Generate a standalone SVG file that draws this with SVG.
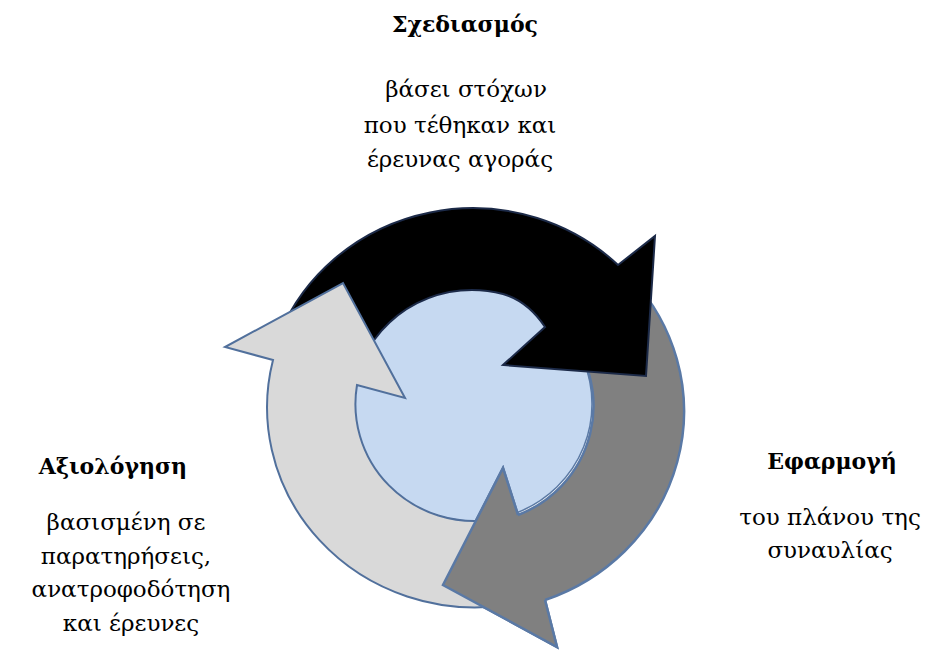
<svg xmlns="http://www.w3.org/2000/svg" width="926" height="661" viewBox="0 0 926 661">
<style>
  text { font-family: "DejaVu Serif", serif; font-size: 23px; fill: #000; text-anchor: middle; }
  .title { font-weight: bold; font-size: 22px; }
  .hub { fill: #c6d9f1; stroke: #5b7aa5; stroke-width: 1.5; }
  .arrow-black { fill: #000; stroke: #1c2a48; stroke-width: 2; stroke-linejoin: miter; }
  .arrow-gray { fill: #808080; stroke: #5a79a5; stroke-width: 2.5; stroke-linejoin: miter; }
  .arrow-light { fill: #d9d9d9; stroke: #51709c; stroke-width: 2; stroke-linejoin: miter; }
</style>
<rect width="926" height="661" fill="#ffffff"/>
<g id="hub">
  <ellipse class="hub" cx="473" cy="404" rx="119" ry="117"/>
</g>
<g id="connectors">
  <path id="arrow-implementation" class="arrow-gray" d="M 632 279 A 208 200 0 0 1 545 600 L 557 647 L 443 585 L 503 468 L 518 515 A 119 117 0 0 0 564 329 Z"/>
  <path id="arrow-planning" class="arrow-black" d="M 280 333 A 208 200 0 0 1 618 265 L 655 236 L 646 376 L 503 365 L 545 327 C 535 312 520 299 503 294 A 119 117 0 0 0 360 367 Z"/>
  <path id="arrow-evaluation" class="arrow-light" d="M 500 606 A 208 200 0 0 1 273 360 L 225 347 L 343 283 L 405 398 L 357 385 A 119 117 0 0 0 490 520 Z"/>
  <path d="M 503 468 L 518 515 L 545 600 L 557 647 L 443 585 Z" fill="#808080" stroke="none"/>
  <path d="M 518 515 L 503 468 L 443 585 L 557 647 L 545 600" fill="none" stroke="#5a79a5" stroke-width="2.5" stroke-linejoin="miter"/>
</g>
<g id="node-planning">
  <text class="title" x="465" y="32">Σχεδιασμός</text>
  <text x="466" y="97">βάσει στόχων</text>
  <text x="460" y="133">που τέθηκαν και</text>
  <text x="460" y="167">έρευνας αγοράς</text>
</g>
<g id="node-implementation">
  <text class="title" x="832" y="469">Εφαρμογή</text>
  <text x="830" y="525">του πλάνου της</text>
  <text x="830" y="558">συναυλίας</text>
</g>
<g id="node-evaluation">
  <text class="title" x="113" y="474">Αξιολόγηση</text>
  <text x="126" y="530">βασισμένη σε</text>
  <text x="126" y="564">παρατηρήσεις,</text>
  <text x="131" y="597">ανατροφοδότηση</text>
  <text x="131" y="631">και έρευνες</text>
</g>
</svg>
